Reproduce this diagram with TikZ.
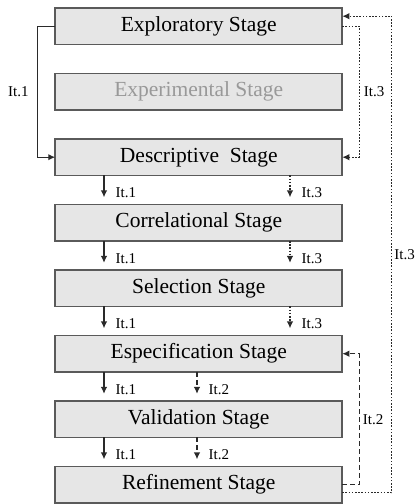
\documentclass[tikz,border=0pt]{standalone}
\usepackage{fontspec}
\setmainfont{Liberation Serif}
\usetikzlibrary{positioning,arrows.meta}
\definecolor{myBORDER}{HTML}{5A5A5A}
\definecolor{myFILL}{HTML}{E6E6E6}
\definecolor{myLINE}{HTML}{2A2A2A}
\definecolor{myFADED}{HTML}{999999}

\begin{document}
\begin{tikzpicture}[x=1pt, y=1pt, >={Latex[length=7pt,width=6.5pt]}, node distance=29pt,
    stage/.style={draw=myBORDER, fill=myFILL, line width=1.6pt, outer sep=0pt, minimum width=287pt, minimum height=36.5pt, inner sep=0pt, font=\fontsize{21.5}{24}\selectfont},
    flow/.style={->, line width=1.4pt, draw=myLINE},
    itdot/.style={flow, dash pattern=on 1.6pt off 1.6pt},
    itdash/.style={flow, dash pattern=on 5pt off 3pt},
    itlabel/.style={font=\fontsize{15}{17}\selectfont, inner sep=1pt}]
    \useasboundingbox (0,0) rectangle (417,-504);
    % Nodes
    \node[stage] (explor) at (198.75,-26.2) {Exploratory Stage};
    \node[stage, text=myFADED, below=of explor] (experim) {Experimental Stage};
    \node[stage, below=of experim] (descr) {Descriptive\ \ Stage};
    \node[stage, below=of descr] (correl) {Correlational Stage};
    \node[stage, below=of correl] (select) {Selection Stage};
    \node[stage, below=of select] (espec) {Especification Stage};
    \node[stage, below=of espec] (valid) {Validation Stage};
    \node[stage, below=of valid] (refine) {Refinement Stage};
    % columns of the downward arrows
    \coordinate (colA) at (104,0);
    \coordinate (colB) at (197,0);
    \coordinate (colC) at (290,0);

    % Arrows
    \draw[flow] (explor.west) -- ++(-18,0) |- node[itlabel, pos=0.25, left=7pt]{It.1} (descr.west);
    \draw[itdot] (explor.east) -- ++(17,0) |- node[itlabel, pos=0.25, right=3pt]{It.3} (descr.east);
    \draw[itdot] ([yshift=-8pt]refine.east) -- ++(49.5,0) |- node[itlabel, pos=0.25, right=1pt]{It.3} ([yshift=10pt]explor.east);
    \draw[itdash] (refine.east) -- ++(17,0) |- node[itlabel, pos=0.25, right=2pt]{It.2} (espec.east);
    \foreach \from/\to in {descr/correl, correl/select, select/espec, espec/valid, valid/refine}
      \draw[flow, shorten >=7pt] (\from.south -| colA) -- node[itlabel, pos=0.6, right=10pt]{It.1} (\to.north -| colA);
    \foreach \from/\to in {descr/correl, correl/select, select/espec}
      \draw[itdot, shorten >=7pt] (\from.south -| colC) -- node[itlabel, pos=0.6, right=10pt]{It.3} (\to.north -| colC);
    \foreach \from/\to in {espec/valid, valid/refine}
      \draw[itdash, shorten >=7pt] (\from.south -| colB) -- node[itlabel, pos=0.6, right=10pt]{It.2} (\to.north -| colB);
\end{tikzpicture}
\end{document}
